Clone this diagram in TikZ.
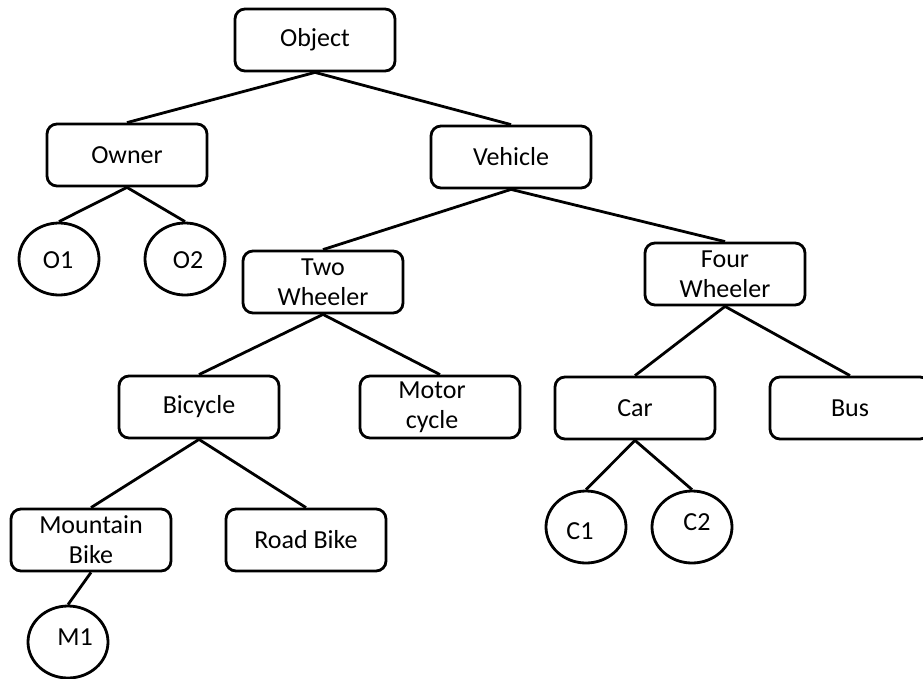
\documentclass[tikz,border=0pt]{standalone}
\usepackage{fontspec}
\setmainfont{Carlito}
\usetikzlibrary{shapes.geometric}
\begin{document}
\begin{tikzpicture}[x=1pt,y=-1pt,
  every node/.style={font=\fontsize{26}{30}\selectfont, align=center, inner sep=0pt},
  box/.style={draw, line width=2.8pt, rounded corners=10pt, minimum width=160pt, minimum height=62pt},
  leaf/.style={draw, line width=2.8pt, ellipse, minimum width=80pt, minimum height=72pt},
  tag/.style={font=\fontsize{26}{30}\selectfont},
  link/.style={line width=2.8pt}]
  \useasboundingbox (0,0) rectangle (923,678);
  \clip (0,0) rectangle (923,678);
  % class hierarchy
  \node[box] (object)  at (315,40)  {Object};
  \node[box] (owner)   at (127,155) {Owner};
  \node[box] (vehicle) at (511,157) {Vehicle};
  \node[leaf] (o1) at (59,259)  {};
  \node[leaf] (o2) at (185,259) {};
  \node[box] (two)  at (323,282) {Two\\Wheeler};
  \node[box] (four) at (725,274) {Four\\Wheeler};
  \node[box] (bicycle) at (199,407) {Bicycle};
  \node[box] (motor)   at (440,407) {\hspace*{-16pt}Motor\\\hspace*{-16pt}cycle};
  \node[box] (car)     at (635,408) {Car};
  \node[box] (bus)     at (850,408) {Bus};
  \node[box] (mountain) at (91,540)  {Mountain\\Bike};
  \node[box] (road)     at (306,540) {Road Bike};
  \node[leaf] (c1) at (586,527) {};
  \node[leaf] (c2) at (692,527) {};
  \node[leaf] (m1) at (68,642)  {};
  % labels of the instance ellipses
  \node[tag] (o1t) at (58,260)  {O1};
  \node[tag] (o2t) at (188,260) {O2};
  \node[tag] (c1t) at (580,531) {C1};
  \node[tag] (c2t) at (697,522) {C2};
  \node[tag] (m1t) at (75,637)  {M1};
  % connectors
  \draw[link] (object.south) -- (owner.north);
  \draw[link] (object.south) -- (vehicle.north);
  \draw[link] (owner.south) -- (o1.north);
  \draw[link] (owner.south) -- (o2.north);
  \draw[link] (vehicle.south) -- (two.north);
  \draw[link] (vehicle.south) -- (four.north);
  \draw[link] (two.south) -- (bicycle.north);
  \draw[link] (two.south) -- (motor.north);
  \draw[link] (four.south) -- (car.north);
  \draw[link] (four.south) -- (bus.north);
  \draw[link] (bicycle.south) -- (mountain.north);
  \draw[link] (bicycle.south) -- (road.north);
  \draw[link] (car.south) -- (c1.north);
  \draw[link] (car.south) -- (c2.north);
  \draw[link] (mountain.south) -- (m1.north);
\end{tikzpicture}
\end{document}
